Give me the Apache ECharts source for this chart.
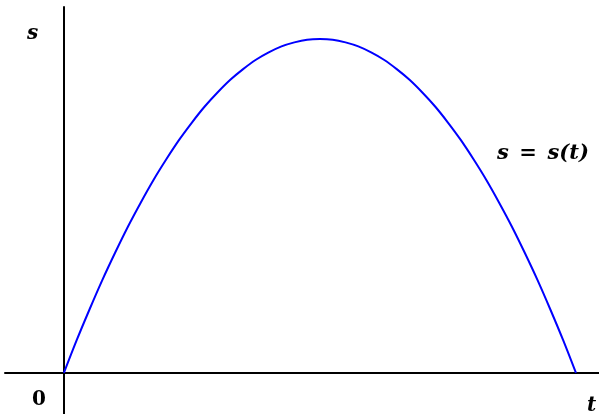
<!DOCTYPE html>
<html lang="en">
<head>
    <meta charset="UTF-8">
    <title>s = s(t)</title>
    <style>body{margin:0;background:#fff;}</style>
</head>
<body>
    <div id="chart" style="width: 599px;height:414px;"></div>
</body>
<script type="text/javascript" src="https://cdn.jsdelivr.net/npm/echarts@6/dist/echarts.min.js"></script>
<script type="text/javascript">
    // time values (t) and the curve height (s)
    var tValues = [0, 0.25, 0.5, 0.75, 1, 1.25, 1.5, 1.75, 2, 2.25, 2.5, 2.75, 3, 3.25, 3.5, 3.75, 4, 4.25, 4.5, 4.75,
        5, 5.25, 5.5, 5.75, 6, 6.25, 6.5, 6.75, 7, 7.25, 7.5, 7.75, 8, 8.25, 8.5, 8.75, 9, 9.25, 9.5, 9.75, 10];
    var sValues = [0, 0.98, 1.9, 2.78, 3.6, 4.38, 5.1, 5.78, 6.4, 6.98, 7.5, 7.98, 8.4, 8.78, 9.1, 9.38, 9.6, 9.78, 9.9, 9.98,
        10, 9.98, 9.9, 9.78, 9.6, 9.38, 9.1, 8.78, 8.4, 7.98, 7.5, 6.98, 6.4, 5.78, 5.1, 4.38, 3.6, 2.78, 1.9, 0.98, 0];

    var curve = [];
    for (var i = 0; i < tValues.length; i++) {
        curve.push([tValues[i], sValues[i]]);
    }

    var myChart = echarts.init(document.getElementById('chart'));

    var mathFont = '"DejaVu Serif", serif';

    var option = {
        animation: false,
        grid: { left: 5, right: 0, top: 7, bottom: 0 },
        xAxis: {
            type: 'value',
            min: -1.15,
            max: 10.45,
            axisLine: { onZero: true, lineStyle: { color: '#000', width: 2 } },
            axisTick: { show: false },
            axisLabel: { show: false },
            splitLine: { show: false }
        },
        yAxis: {
            type: 'value',
            min: -1.23,
            max: 10.96,
            axisLine: { onZero: true, lineStyle: { color: '#000', width: 2 } },
            axisTick: { show: false },
            axisLabel: { show: false },
            splitLine: { show: false }
        },
        series: [{
            type: 'line',
            data: curve,
            smooth: 0.3,
            showSymbol: false,
            lineStyle: { color: '#0000ff', width: 2 }
        }],
        graphic: [
            { type: 'text', left: 27, top: 24, style: { text: 's', font: 'italic bold 20px ' + mathFont, fill: '#000' } },
            { type: 'text', left: 32, top: 390, style: { text: '0', font: 'bold 20px ' + mathFont, fill: '#000' } },
            { type: 'text', left: 587, top: 396, style: { text: 't', font: 'italic bold 20px ' + mathFont, fill: '#000' } },
            { type: 'text', left: 497, top: 143, style: { text: 's\u2002=\u2002s(t)', font: 'italic bold 21px ' + mathFont, fill: '#000' } }
        ]
    };

    myChart.setOption(option);
</script>
</html>
